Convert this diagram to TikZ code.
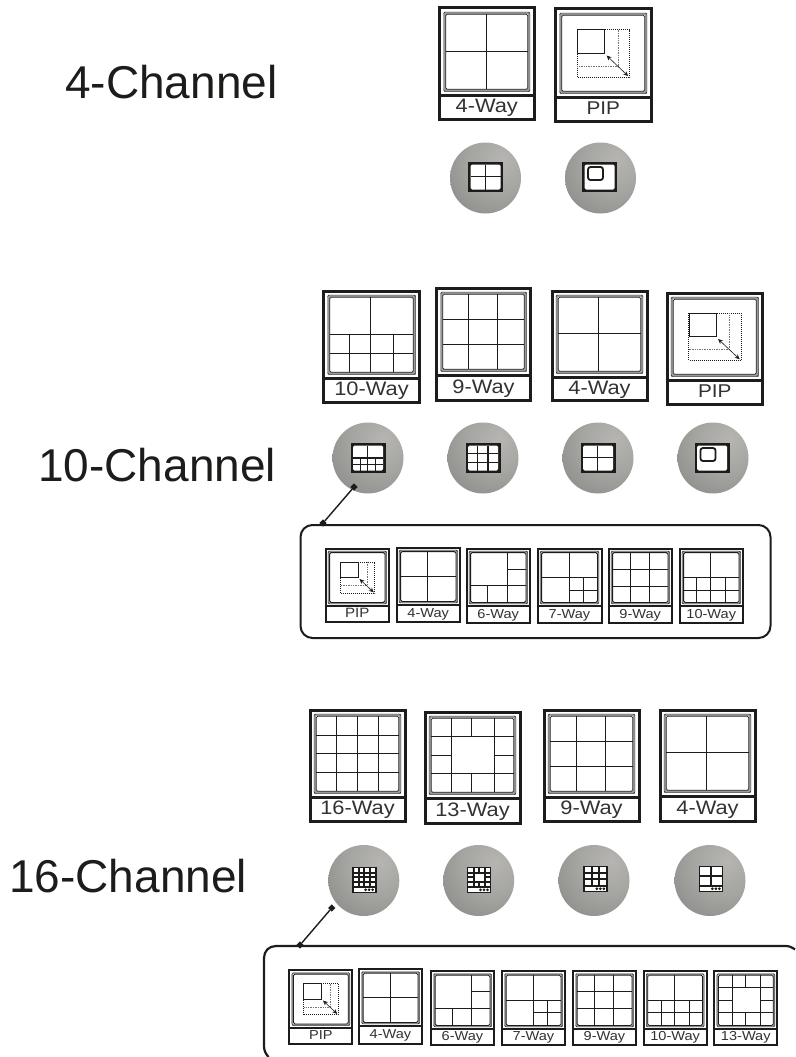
\documentclass[tikz,border=0pt]{standalone}
\usepackage{fontspec}
\setmainfont{Liberation Sans}
\newfontfamily\wayfont[FakeStretch=1.12]{Liberation Sans}
\usetikzlibrary{shapes.geometric,arrows.meta}
\definecolor{ink}{HTML}{1E1C1B}
\definecolor{labelink}{HTML}{333231}
\definecolor{band}{HTML}{9A9A9A}
\definecolor{ballA}{HTML}{B6B5B1}
\definecolor{ballB}{HTML}{A4A4A0}
\definecolor{ballC}{HTML}{888987}
\definecolor{ballD}{HTML}{727372}
\pgfdeclareradialshading{ballsh}{\pgfpoint{12bp}{14bp}}{%
  color(0bp)=(ballA); color(22bp)=(ballB); color(45bp)=(ballC); color(68bp)=(ballD); color(100bp)=(ballD)}
% layouts in the unit square
\newcommand{\LayFour}{(.49,0)--(.49,1) (0,.49)--(1,.49)}
\newcommand{\LayNine}{(.32,0)--(.32,1) (.67,0)--(.67,1) (0,.33)--(1,.33) (0,.67)--(1,.67)}
\newcommand{\LaySixteen}{(.25,0)--(.25,1) (.5,0)--(.5,1) (.75,0)--(.75,1) (0,.25)--(1,.25) (0,.5)--(1,.5) (0,.75)--(1,.75)}
\newcommand{\LayThirteen}{(.25,0)--(.25,1) (.77,0)--(.77,1) (0,.25)--(1,.25) (0,.75)--(1,.75) (.49,0)--(.49,.25) (.49,.75)--(.49,1) (0,.5)--(.25,.5) (.77,.5)--(1,.5)}
\newcommand{\LayTen}{(.49,0)--(.49,1) (0,.5)--(1,.5) (0,.75)--(1,.75) (.24,.5)--(.24,1) (.76,.5)--(.76,1)}
\newcommand{\LaySix}{(.66,0)--(.66,1) (0,.66)--(1,.66) (.31,.66)--(.31,1) (.66,.33)--(1,.33)}
\newcommand{\LaySeven}{(.5,0)--(.5,1) (0,.5)--(1,.5) (.75,.5)--(.75,1) (.5,.75)--(1,.75)}
\newcounter{capno}
\tikzset{
  outerframe/.style={draw=ink,fill=white,line width=#1},
  gridline/.style={draw=ink,line width=.85pt},
  waylabel/.style={text=labelink,inner sep=0pt,anchor=base},
  chanlabel/.style={text=ink,inner sep=0pt,anchor=base west,font=\fontsize{46}{50}\selectfont},
  ball/.style={circle,draw=none,minimum size=71pt,inner sep=0pt,shading=ballsh},
  tipmark/.style={diamond,fill=ink,draw=none,minimum size=7.5pt,inner sep=0pt},
  linkline/.style={draw=ink,line width=1.4pt},
  panel/.style={draw=ink,line width=2pt},
  dotbox/.style={draw=ink,line width=1pt,densely dotted},
  dotgrey/.style={draw=black!55,line width=.7pt,densely dotted},
  iconline/.style={draw=ink,line width=1.3pt},
  stripline/.style={draw=ink,line width=1.9pt}
}
% x0 y0 x1 y1 split label fontsize layout outer-width
\newcommand{\scrn}[9]{%
  \stepcounter{capno}%
  \pgfmathsetmacro{\mrg}{#9>2.5?4:2.5}%
  \pgfmathsetmacro{\bandw}{#9>2.5?2.2:1.6}%
  \path[outerframe=#9pt] (#1,#2) rectangle (#3,#4);
  \draw[ink,line width=#9pt] (#1,#5) -- (#3,#5);
  \node[waylabel,font=\wayfont\fontsize{#7}{#7}\selectfont] (cap\thecapno) at ({(#1+#3)/2},{#5+(#4-#5)*.74}) {#6};
  \pgfmathsetmacro{\xa}{#1+\mrg+\bandw}%
  \pgfmathsetmacro{\xb}{#3-\mrg-\bandw}%
  \pgfmathsetmacro{\ya}{#2+\mrg+\bandw}%
  \pgfmathsetmacro{\yb}{#5-\mrg-\bandw+.5}%
  \pgfmathsetmacro{\ww}{\xb-\xa}%
  \pgfmathsetmacro{\hh}{\yb-\ya}%
  \draw[band,line width=\bandw pt] ({\xa-\bandw/2},{\ya-\bandw/2}) rectangle ({\xb+\bandw/2},{\yb+\bandw/2});
  \draw[ink,line width=.4pt,rounded corners=1.5pt] ({\xa-\bandw},{\ya-\bandw}) rectangle ({\xb+\bandw},{\yb+\bandw});
  \draw[ink,line width=.8pt,fill=white,rounded corners=1.5pt] (\xa,\ya) rectangle (\xb,\yb);
  \begin{scope}[shift={(\xa,\ya)},x=\ww pt,y=-\hh pt]
    #8
  \end{scope}
}
\newcommand{\gridof}[1]{\draw[gridline] #1;}
\newcommand{\pipof}{%
  \draw[dotbox] (.19,.19) rectangle (.82,.82);
  \draw[dotgrey] (.68,.19) -- (.68,.667) -- (.19,.667);
  \draw[gridline,fill=white] (.19,.19) rectangle (.515,.5);
  \draw[draw=ink,line width=.6pt,{Stealth[length=5pt,width=4.4pt]}-{Stealth[length=5pt,width=4.4pt]}] (.54,.53) -- (.8,.8);
}
% plain icon: cx cy layout
\newcommand{\iconat}[3]{%
  \fill[ink] ({#1-17.5},{#2-15}) rectangle ({#1+17.5},{#2+15});
  \fill[white,rounded corners=1.5pt] ({#1-15},{#2-12.5}) rectangle ({#1+15},{#2+12.5});
  \begin{scope}[shift={({#1-15},{#2-12.5})},x=30pt,y=-25pt]
    #3
  \end{scope}
}
\newcommand{\iconpip}[2]{%
  \fill[ink] ({#1-17.5},{#2-15}) rectangle ({#1+17.5},{#2+15});
  \fill[white,rounded corners=1.5pt] ({#1-15},{#2-12.5}) rectangle ({#1+15},{#2+12.5});
  \draw[ink,line width=1.8pt,rounded corners=2.5pt] ({#1-11.5},{#2-10}) rectangle ({#1+3.5},{#2+3});
}
% strip icon: cx cy(top) layout
\newcommand{\iconstrip}[3]{%
  \fill[ink] ({#1-12.25},{#2}) rectangle ({#1+12.25},{#2+26.6});
  \fill[white] ({#1-10.75},{#2+1.5}) rectangle ({#1+10.75},{#2+19.5});
  \fill[white] ({#1-10.75},{#2+21}) rectangle ({#1+10.75},{#2+25.1});
  \foreach \dd in {1.3,4.8,8.3}{\fill[ink] ({#1+\dd},{#2+23.05}) circle (1.5pt);}
  \begin{scope}[shift={({#1-10.75},{#2+1.5})},x=21.5pt,y=-18pt]
    \draw[stripline] #3;
  \end{scope}
}
\newcommand{\iconlines}[1]{\draw[iconline] #1;}
\begin{document}
\begin{tikzpicture}[x=1pt,y=-1pt]
\useasboundingbox (0,0) rectangle (795,1057);
% ---- 4-channel
\node[chanlabel] (chanA) at (65,99) {4-Channel};
\scrn{439.5}{8}{534}{119}{95}{4-Way}{19.5}{\gridof{\LayFour}}{3}
\scrn{555.5}{9}{651}{121}{97}{PIP}{18.5}{\pipof}{3}
\node[ball] (ballA1) at (485.5,178) {};
\node[ball] (ballA2) at (600.5,178) {};
\iconat{485.5}{177}{\iconlines{\LayFour}}
\iconpip{599.5}{177}
% ---- 10-channel
\node[chanlabel] (chanB) at (38,481.5) {10-Channel};
\scrn{323.5}{291}{419.5}{402}{378}{10-Way}{19.5}{\gridof{\LayTen}}{3}
\scrn{436.5}{288}{530.5}{400}{375}{9-Way}{19.5}{\gridof{\LayNine}}{3}
\scrn{552}{291}{647}{400}{377}{4-Way}{19.5}{\gridof{\LayFour}}{3}
\scrn{667}{293}{762.5}{404}{380}{PIP}{18.5}{\pipof}{3}
\node[ball] (ballB1) at (368,458) {};
\node[ball] (ballB2) at (483,458) {};
\node[ball] (ballB3) at (598,458) {};
\node[ball] (ballB4) at (713,458) {};
\iconat{368}{458}{\iconlines{\LayTen}}
\iconat{483}{458}{\iconlines{\LayNine}}
\iconat{598}{458}{\iconlines{\LayFour}}
\iconpip{712}{458}
\draw[panel,rounded corners=12pt] (300.5,525) rectangle (770.5,638);
\node[tipmark] (linkB1) at (354,487) {};
\node[tipmark] (linkB2) at (323,523) {};
\draw[linkline] (linkB1) -- (linkB2);
\scrn{325.5}{548.5}{389}{622}{606}{PIP}{13.5}{\pipof}{2}
\scrn{396.5}{547.5}{460}{622}{605}{4-Way}{13}{\gridof{\LayFour}}{2}
\scrn{466.5}{548.5}{530}{623}{606}{6-Way}{13}{\gridof{\LaySix}}{2}
\scrn{537.5}{548.5}{601.5}{623}{606}{7-Way}{13}{\gridof{\LaySeven}}{2}
\scrn{608.5}{548.5}{672}{623}{606}{9-Way}{13}{\gridof{\LayNine}}{2}
\scrn{679.5}{548.5}{743}{623}{606}{10-Way}{13}{\gridof{\LayTen}}{2}
% ---- 16-channel
\node[chanlabel] (chanC) at (9,892) {16-Channel};
\scrn{310}{710}{405}{821}{797}{16-Way}{19.5}{\gridof{\LaySixteen}}{3}
\scrn{425}{712}{520}{823}{798}{13-Way}{19.5}{\gridof{\LayThirteen}}{3}
\scrn{544}{710}{639}{821}{797}{9-Way}{19.5}{\gridof{\LayNine}}{3}
\scrn{660}{710}{755}{821}{796}{4-Way}{19.5}{\gridof{\LayFour}}{3}
\node[ball] (ballC1) at (363.8,880.5) {};
\node[ball] (ballC2) at (478.7,880.5) {};
\node[ball] (ballC3) at (594,880.5) {};
\node[ball] (ballC4) at (710,880.5) {};
\iconstrip{364.3}{866.7}{\LaySixteen}
\iconstrip{479.2}{866.7}{\LayThirteen}
\iconstrip{595.5}{865.7}{\LayNine}
\iconstrip{711}{865.7}{\LayFour}
\draw[panel,line width=2.2pt] (795,949.3) .. controls (792,947) and (789,946) .. (785,946) -- (276,946) .. controls (269,946) and (264,951) .. (264,958) -- (264,1046) .. controls (264,1051) and (266,1054) .. (268.5,1057);
\node[tipmark] (linkC1) at (331.7,908) {};
\node[tipmark] (linkC2) at (300,945) {};
\draw[linkline] (linkC1) -- (linkC2);
\scrn{289.3}{970}{352.3}{1043.5}{1027.5}{PIP}{13}{\pipof}{2}
\scrn{359}{969}{422}{1043.5}{1026}{4-Way}{13}{\gridof{\LayFour}}{2}
\scrn{431}{971}{494}{1044.5}{1029}{6-Way}{13}{\gridof{\LaySix}}{2}
\scrn{502}{971}{565}{1044.5}{1029}{7-Way}{13}{\gridof{\LaySeven}}{2}
\scrn{573}{971}{636}{1044.5}{1029}{9-Way}{13}{\gridof{\LayNine}}{2}
\scrn{643.7}{971}{706.7}{1044.5}{1029}{10-Way}{13}{\gridof{\LayTen}}{2}
\scrn{714.3}{971}{777.3}{1044.5}{1029}{13-Way}{13}{\gridof{\LayThirteen}}{2}
\end{tikzpicture}
\end{document}
